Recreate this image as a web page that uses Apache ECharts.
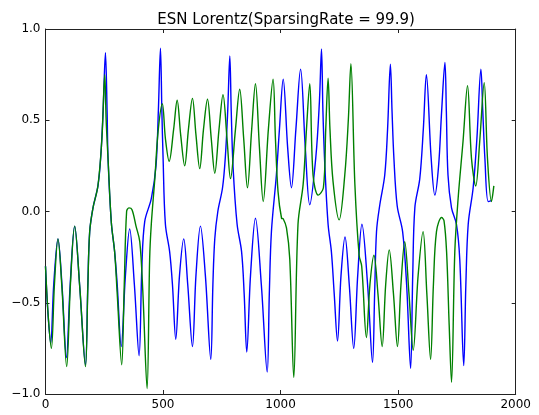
<!DOCTYPE html>
<html>
<head>
<meta charset="utf-8">
<script src="https://cdn.jsdelivr.net/npm/echarts@6/dist/echarts.min.js"></script>
<style>
html,body{margin:0;padding:0;background:#fff;}
#main{width:539px;height:415px;}
</style>
</head>
<body>
<div id="main"></div>
<script>
var titleText = 'ESN Lorentz(SparsingRate = 99.9)';
var xTicks = [0, 500, 1000, 1500, 2000];
var yTicks = [-1.0, -0.5, 0.0, 0.5, 1.0];

// blue series (prediction) keypoints [x, y]
var blueSeries = [
[0,-0.30],[10,-0.55],[22,-0.72],[35,-0.40],[53,-0.15],[70,-0.40],[89,-0.80],[105,-0.40],[124,-0.08],[145,-0.40],[170,-0.84],
[180,-0.40],[188,-0.11],[202,0.02],[223,0.14],[235,0.30],[245,0.55],[255,0.87],[262,0.55],[266,0.29],[280,-0.06],[294,-0.22],
[305,-0.40],[322,-0.74],[340,-0.35],[358,-0.095],[378,-0.40],[398,-0.79],[410,-0.30],[422,-0.055],[450,0.07],[470,0.25],[480,0.55],
[489,0.895],[495,0.55],[500,0.30],[510,-0.07],[528,-0.22],[540,-0.40],[554,-0.70],[570,-0.35],[588,-0.15],[605,-0.40],[625,-0.74],
[640,-0.35],[659,-0.08],[680,-0.35],[703,-0.81],[712,-0.40],[720,-0.15],[733,0.0],[753,0.13],[765,0.30],[775,0.55],[784,0.853],
[790,0.55],[798,0.24],[815,-0.07],[834,-0.22],[845,-0.45],[856,-0.77],[872,-0.35],[893,-0.037],[918,-0.40],[943,-0.88],[952,-0.45],
[961,-0.11],[982,0.20],[995,0.45],[1011,0.725],[1030,0.35],[1046,0.13],[1065,0.45],[1085,0.78],[1105,0.35],[1124,0.037],[1150,0.30],
[1165,0.60],[1174,0.89],[1180,0.55],[1188,0.257],[1202,-0.07],[1216,-0.22],[1228,-0.45],[1242,-0.71],[1257,-0.35],[1274,-0.14],
[1292,-0.40],[1311,-0.75],[1328,-0.35],[1346,-0.07],[1370,-0.40],[1391,-0.826],[1400,-0.45],[1408,-0.11],[1422,0.037],[1443,0.20],
[1455,0.45],[1467,0.807],[1474,0.55],[1482,0.29],[1496,0.03],[1519,-0.11],[1536,-0.40],[1553,-0.86],[1562,-0.35],[1571,0.02],
[1592,0.18],[1607,0.45],[1620,0.75],[1640,0.30],[1656,0.09],[1672,0.25],[1685,0.55],[1699,0.817],[1705,0.55],[1712,0.20],[1727,0.02],
[1748,-0.07],[1762,-0.26],[1779,-0.844],[1788,-0.40],[1798,-0.07],[1819,0.13],[1835,0.40],[1852,0.78],[1860,0.55],[1869,0.29],
[1883,0.055],[1897,0.06]
];

// green series (target) keypoints [x, y]
var greenSeries = [
[0,-0.30],[12,-0.58],[25,-0.75],[38,-0.40],[53,-0.15],[70,-0.42],[90,-0.85],[106,-0.40],[124,-0.08],[146,-0.42],[170,-0.85],
[180,-0.42],[188,-0.11],[202,0.02],[223,0.14],[240,0.40],[252,0.75],[258,0.50],[266,0.29],[280,-0.06],[294,-0.22],[305,-0.45],
[324,-0.84],[335,-0.40],[345,0.0],[355,0.02],[368,0.01],[385,-0.08],[401,-0.165],[414,-0.44],[432,-0.97],[443,-0.26],[450,-0.07],
[465,0.18],[479,0.44],[497,0.59],[510,0.40],[526,0.275],[545,0.45],[560,0.61],[575,0.42],[592,0.25],[608,0.45],[625,0.62],[640,0.42],
[656,0.235],[672,0.45],[689,0.615],[705,0.40],[720,0.21],[738,0.45],[755,0.64],[772,0.40],[787,0.18],[808,0.45],[826,0.67],[843,0.40],
[859,0.13],[877,0.45],[893,0.70],[910,0.35],[926,0.055],[948,0.45],[968,0.725],[978,0.40],[989,0.11],[1004,-0.037],[1011,-0.04],
[1025,-0.09],[1039,-0.26],[1056,-0.91],[1074,-0.07],[1096,0.15],[1110,0.45],[1124,0.70],[1138,0.20],[1160,0.09],[1182,0.13],
[1192,0.45],[1202,0.73],[1210,0.45],[1223,0.165],[1249,-0.046],[1273,0.20],[1288,0.50],[1299,0.81],[1316,0.147],[1334,-0.24],
[1345,-0.30],[1365,-0.69],[1380,-0.40],[1397,-0.24],[1414,-0.45],[1432,-0.74],[1447,-0.40],[1462,-0.21],[1480,-0.45],[1497,-0.74],
[1512,-0.40],[1528,-0.165],[1546,-0.45],[1564,-0.76],[1585,-0.35],[1606,-0.11],[1622,-0.45],[1638,-0.81],[1650,-0.40],[1663,-0.11],
[1685,-0.033],[1695,-0.05],[1706,-0.22],[1717,-0.62],[1727,-0.936],[1741,-0.22],[1755,0.07],[1776,0.385],[1795,0.69],[1812,0.29],
[1830,0.14],[1847,0.385],[1866,0.706],[1880,0.29],[1897,0.055],[1907,0.14]
];

var chart = echarts.init(document.getElementById('main'), null, {renderer: 'canvas'});
var font = 'DejaVu Sans';
function fmtY(v){ var s = Math.abs(v).toFixed(1); return v < 0 ? '\u2212' + s : s; }
function fmtX(v){ return String(v); }
var lineStyleAxis = {color: '#222', width: 1};
var option = {
  backgroundColor: '#fff',
  animation: false,
  title: {
    text: titleText, left: 281, top: 8, textAlign: 'center',
    textStyle: {fontFamily: font, fontSize: 15, fontWeight: 'normal', color: '#000'}
  },
  grid: {left: 45.5, right: 23.3, top: 29, bottom: 21, containLabel: false},
  xAxis: [{
    type: 'value', min: xTicks[0], max: xTicks[xTicks.length-1], interval: 500,
    axisLine: {show: true, onZero: false, lineStyle: lineStyleAxis},
    axisTick: {show: true, inside: true, length: 4, lineStyle: lineStyleAxis},
    axisLabel: {fontFamily: font, fontSize: 12, color: '#000', margin: 5, formatter: fmtX},
    splitLine: {show: false}
  },{
    type: 'value', position: 'top', min: xTicks[0], max: xTicks[xTicks.length-1], interval: 500,
    axisLine: {show: true, onZero: false, lineStyle: lineStyleAxis},
    axisTick: {show: true, inside: true, length: 4, lineStyle: lineStyleAxis},
    axisLabel: {show: false}, splitLine: {show: false}
  }],
  yAxis: [{
    type: 'value', min: yTicks[0], max: yTicks[yTicks.length-1], interval: 0.5,
    axisLine: {show: true, onZero: false, lineStyle: lineStyleAxis},
    axisTick: {show: true, inside: true, length: 4, lineStyle: lineStyleAxis},
    axisLabel: {fontFamily: font, fontSize: 12, color: '#000', margin: 5, formatter: fmtY},
    splitLine: {show: false}
  },{
    type: 'value', position: 'right', min: yTicks[0], max: yTicks[yTicks.length-1], interval: 0.5,
    axisLine: {show: true, onZero: false, lineStyle: lineStyleAxis},
    axisTick: {show: true, inside: true, length: 4, lineStyle: lineStyleAxis},
    axisLabel: {show: false}, splitLine: {show: false}
  }],
  series: [{
    type: 'line', data: blueSeries, showSymbol: false, smooth: 0.35,
    lineStyle: {color: '#0000ff', width: 1.4}, z: 2
  },{
    type: 'line', data: greenSeries, showSymbol: false, smooth: 0.35,
    lineStyle: {color: '#008000', width: 1.4}, z: 3
  }]
};
chart.setOption(option);
</script>
</body>
</html>
